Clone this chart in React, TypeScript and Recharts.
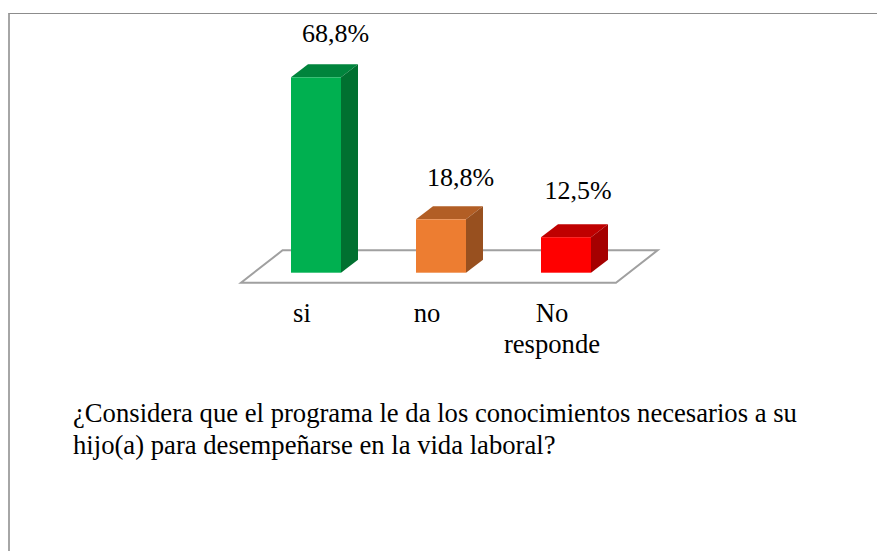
import React from "react";
import { BarChart, Bar, XAxis, YAxis, LabelList, ReferenceArea } from "recharts";

const categories = ["si", "no", "No responde"];
const values = [68.8, 18.8, 12.5];
const valueLabels = ["68,8%", "18,8%", "12,5%"];
const questionLines = [
  "¿Considera que el programa le da los conocimientos necesarios a su",
  "hijo(a) para desempeñarse en la vida laboral?",
];
const frontColors = ["#00B050", "#ED7D31", "#FF0000"];
const topColors = ["#00843C", "#B25E25", "#BF0000"];
const sideColors = ["#007030", "#98501F", "#A50000"];
const labelDx = [19.5, 19.5, 12];
const labelDy = [-35, -33, -38];

const FONT = '"Liberation Serif", "Times New Roman", serif';
const FONT_SIZE = 26;
const TEXT_SIZE = 26.67;
const DEPTH_X = 17;
const DEPTH_Y = 13;

const rows = categories.map((name, i) => ({ name, value: values[i] }));

function Bar3D(props: any) {
  const { x, y, width, height, index } = props;
  const b = y + height;
  const r = x + width;
  return (
    <g>
      <polygon
        points={`${x},${y} ${x + DEPTH_X},${y - DEPTH_Y} ${r + DEPTH_X},${y - DEPTH_Y} ${r},${y}`}
        fill={topColors[index]}
      />
      <polygon
        points={`${r},${y} ${r + DEPTH_X},${y - DEPTH_Y} ${r + DEPTH_X},${b - DEPTH_Y} ${r},${b}`}
        fill={sideColors[index]}
      />
      <rect x={x} y={y} width={width} height={height} fill={frontColors[index]} />
    </g>
  );
}

function Floor(props: any) {
  const { x, y, width, height } = props;
  const base = y + height;
  const front = base + 10;
  const back = base - 22.4;
  const left = x - 12;
  const right = x + width - 12;
  return (
    <polygon
      points={`${left},${front} ${right},${front} ${right + 41.6},${back} ${left + 41.6},${back}`}
      fill="#ffffff"
      stroke="#A0A0A0"
      strokeWidth={2}
    />
  );
}

function CategoryTick(props: any) {
  const { x, payload } = props;
  const value = String(payload.value);
  const words = value.split(" ");
  return (
    <text textAnchor="middle" fontFamily={FONT} fontSize={TEXT_SIZE} fill="#000">
      {words.map((w, i) => (
        <tspan key={w} x={x - 13.5} y={322 + i * 31}>
          {w}
        </tspan>
      ))}
    </text>
  );
}

function ValueLabel(props: any) {
  const { x, y, width, index } = props;
  return (
    <text
      x={x + width / 2 + labelDx[index]}
      y={y + labelDy[index]}
      textAnchor="middle"
      fontFamily={FONT}
      fontSize={FONT_SIZE}
      fill="#000"
    >
      {valueLabels[index]}
    </text>
  );
}

export default function App() {
  return (
    <div style={{ position: "absolute", left: 0, top: 0, width: 877, height: 551, overflow: "hidden", background: "#fff" }}>
      <div
        style={{
          position: "absolute",
          left: 8,
          top: 13,
          width: 869,
          height: 538,
          boxSizing: "border-box",
          borderTop: "1px solid #8C8C8C",
          borderLeft: "2px solid #A6A6A6",
        }}
      />
      <div style={{ position: "absolute", left: 0, top: 0 }}>
        <BarChart
          width={877}
          height={551}
          data={rows}
          barCategoryGap={0}
          barSize={50}
          margin={{ top: 45.5, right: 249, bottom: 178.3, left: 253 }}
        >
          <XAxis
            dataKey="name"
            axisLine={false}
            tickLine={false}
            tick={<CategoryTick />}
            interval={0}
            height={100}
          />
          <YAxis domain={[0, 80]} hide />
          <ReferenceArea y1={0} y2={80} shape={<Floor />} ifOverflow="visible" />
          <Bar dataKey="value" isAnimationActive={false} shape={<Bar3D />}>
            <LabelList dataKey="value" content={<ValueLabel />} />
          </Bar>
        </BarChart>
      </div>
      <div
        style={{
          position: "absolute",
          left: 73,
          top: 397,
          fontFamily: FONT,
          fontSize: TEXT_SIZE,
          lineHeight: "32px",
          color: "#000",
          whiteSpace: "nowrap",
        }}
      >
        {questionLines.map((l) => (
          <div key={l}>{l}</div>
        ))}
      </div>
    </div>
  );
}
